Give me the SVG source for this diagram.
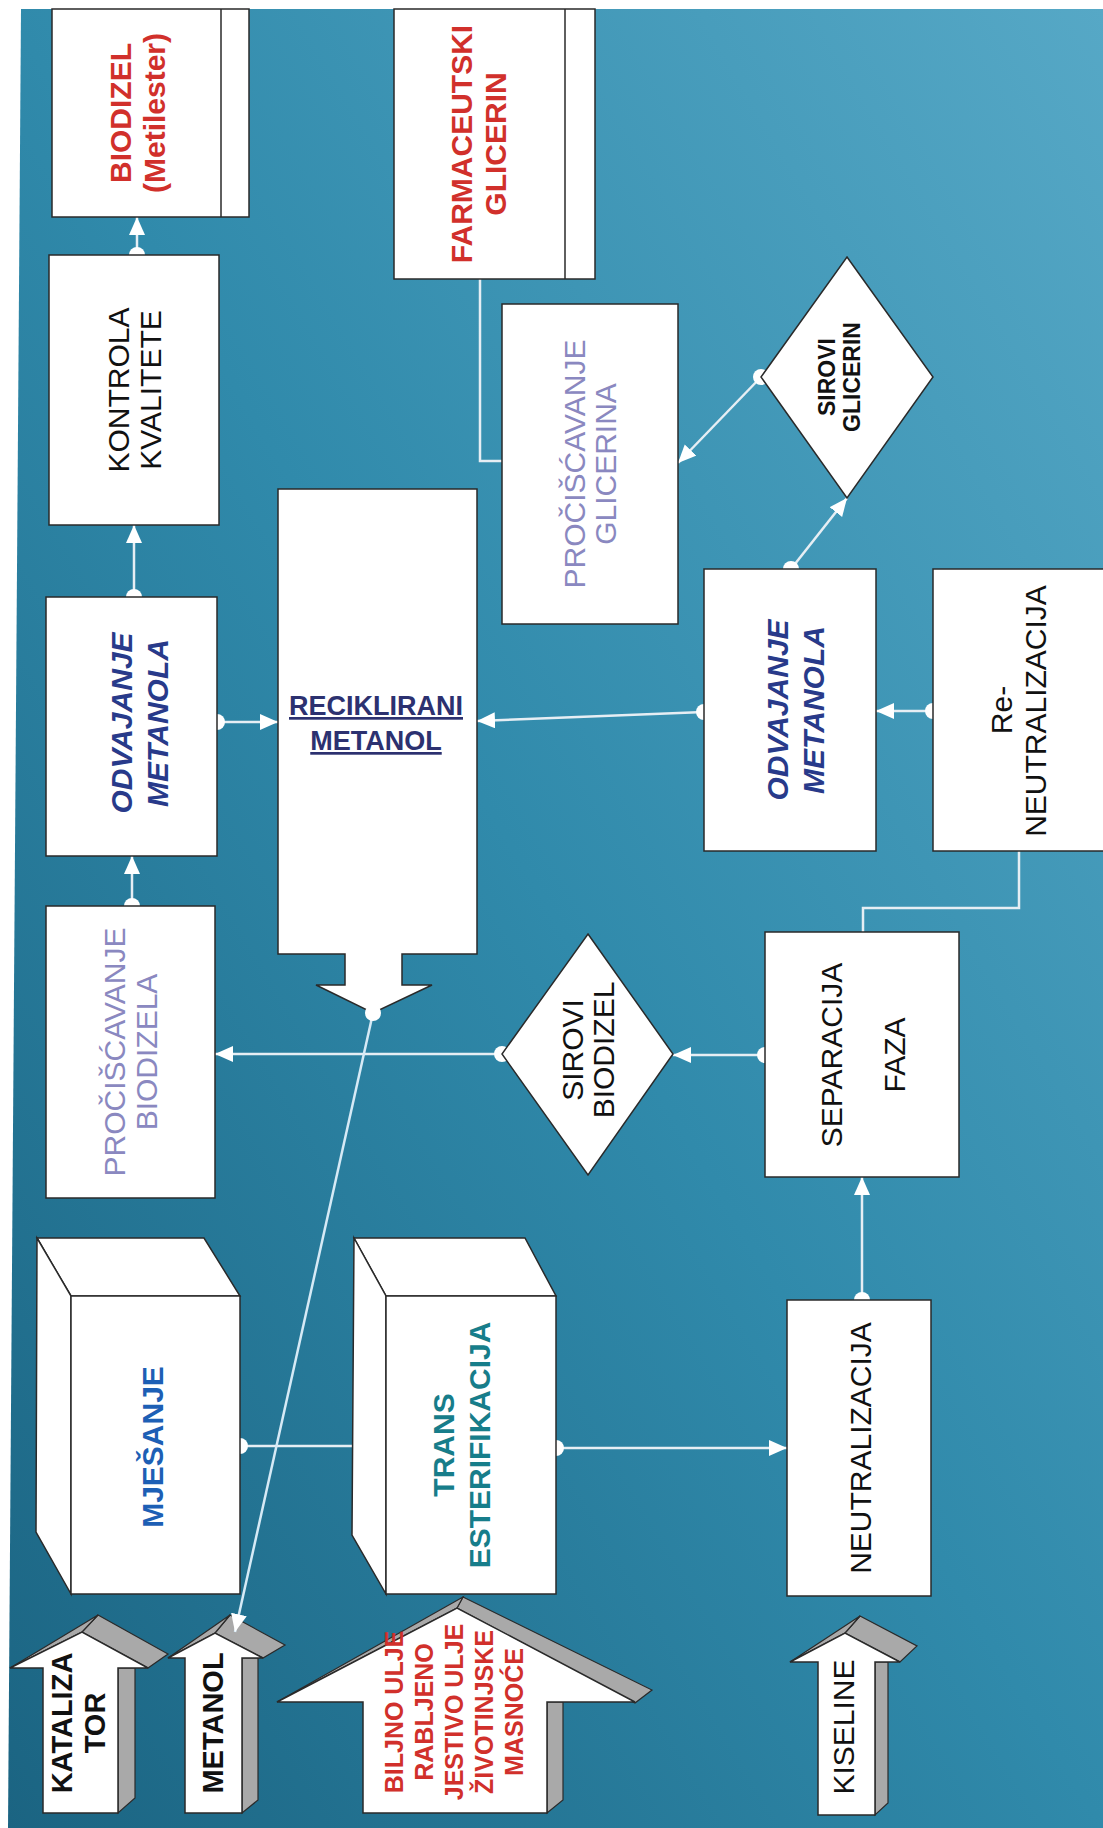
<svg xmlns="http://www.w3.org/2000/svg" width="1103" height="1828" viewBox="0 0 1103 1828">
<defs>
<linearGradient id="bg" x1="0" y1="1" x2="1" y2="0">
<stop offset="0" stop-color="#1b6482"/>
<stop offset="0.5" stop-color="#308aab"/>
<stop offset="1" stop-color="#56a8c6"/>
</linearGradient>
<marker id="ah" markerUnits="userSpaceOnUse" markerWidth="20" markerHeight="18" refX="18" refY="8" orient="auto"><path d="M0,0 L18,8 L0,16 z" fill="#ffffff"/></marker>
<style>
.box{fill:#fff;stroke:#2a2a2a;stroke-width:1.5}
.gray{fill:#a9a9a9;stroke:#2a2a2a;stroke-width:1.2}
.t{font-family:"Liberation Sans",Arial,sans-serif;font-size:30px;text-anchor:middle}
.b{font-weight:bold}
.i{font-style:italic}
.red{fill:#d1302b}
.blk{fill:#111}
.lav{fill:#8a88c0}
.navy{fill:#283a8a}
.con{stroke:#e6eef4;stroke-width:2.5;fill:none}
.arr{marker-end:url(#ah)}
.dot{fill:#fff}
</style>
</defs>
<polygon points="21,9 1103,9 1103,1828 8,1828" fill="url(#bg)"/>

<g id="connectors">
<line class="con arr" x1="137" y1="255" x2="137" y2="217"/><circle class="dot" cx="137" cy="255" r="8"/>
<line class="con arr" x1="134" y1="597" x2="134" y2="525"/><circle class="dot" cx="134" cy="597" r="8"/>
<line class="con arr" x1="132" y1="906" x2="132" y2="856"/><circle class="dot" cx="132" cy="906" r="8"/>
<line class="con arr" x1="217" y1="722" x2="278" y2="722"/><circle class="dot" cx="217" cy="722" r="8"/>
<line class="con arr" x1="704" y1="712" x2="477" y2="721"/><circle class="dot" cx="704" cy="712" r="8"/>
<line class="con arr" x1="933" y1="711" x2="876" y2="711"/><circle class="dot" cx="933" cy="711" r="8"/>
<line class="con arr" x1="791" y1="569" x2="847" y2="498"/><circle class="dot" cx="791" cy="569" r="8"/>
<line class="con arr" x1="761" y1="377" x2="678" y2="463"/><circle class="dot" cx="761" cy="377" r="8"/>
<polyline class="con" points="502,461 480,461 480,279"/>
<polyline class="con" points="1019,851 1019,908 863,908 863,932"/>
<line class="con arr" x1="765" y1="1055" x2="673" y2="1055"/><circle class="dot" cx="765" cy="1055" r="8"/>
<line class="con arr" x1="502" y1="1054" x2="215" y2="1054"/><circle class="dot" cx="502" cy="1054" r="8"/>
<line class="con arr" x1="862" y1="1300" x2="862" y2="1177"/><circle class="dot" cx="862" cy="1300" r="8"/>
<line class="con arr" x1="556" y1="1448" x2="787" y2="1448"/><circle class="dot" cx="556" cy="1448" r="8"/>
<line class="con" x1="240" y1="1446" x2="354" y2="1446"/><circle class="dot" cx="240" cy="1446" r="8"/>
</g>

<g id="biodizel">
<rect class="box" x="52" y="9" width="197" height="208"/>
<line x1="221" y1="9" x2="221" y2="217" stroke="#2a2a2a" stroke-width="1.5"/>
<text class="t b red" transform="translate(120,113) rotate(-90)" y="10.7">BIODIZEL</text>
<text class="t b red" transform="translate(154,113) rotate(-90)" y="10.7">(Metilester)</text>
</g>

<g id="kontrola">
<rect class="box" x="49" y="255" width="170" height="270"/>
<text class="t blk" transform="translate(118,390) rotate(-90)" y="10.7">KONTROLA</text>
<text class="t blk" transform="translate(150,390) rotate(-90)" y="10.7">KVALITETE</text>
</g>

<g id="farmaceutski">
<rect class="box" x="394" y="9" width="201" height="270"/>
<line x1="565" y1="9" x2="565" y2="279" stroke="#2a2a2a" stroke-width="1.5"/>
<text class="t b red" transform="translate(461,144) rotate(-90)" y="10.7">FARMACEUTSKI</text>
<text class="t b red" transform="translate(495,144) rotate(-90)" y="10.7">GLICERIN</text>
</g>

<g id="prociscavanje-glicerina">
<rect class="box" x="502" y="304" width="176" height="320"/>
<text class="t lav" transform="translate(574,464) rotate(-90)" y="10.7">PROČIŠĆAVANJE</text>
<text class="t lav" transform="translate(605,464) rotate(-90)" y="10.7">GLICERINA</text>
</g>

<g id="sirovi-glicerin">
<polygon class="box" points="847,257 933,377 847,498 761,377"/>
<text class="t b blk" style="font-size:23px" transform="translate(827,377) rotate(-90)" y="8.2">SIROVI</text>
<text class="t b blk" style="font-size:23px" transform="translate(852,377) rotate(-90)" y="8.2">GLICERIN</text>
</g>

<g id="reciklirani">
<polygon class="box" points="278,489 477,489 477,954 402,954 402,985 432,985 373,1013 316,985 345,985 345,954 278,954"/>
<text class="t b" style="font-size:27px;fill:#2c3170;text-decoration:underline" x="376" y="715">RECIKLIRANI</text>
<text class="t b" style="font-size:27px;fill:#2c3170;text-decoration:underline" x="376" y="750">METANOL</text>
</g>

<g id="odvajanje-1">
<rect class="box" x="46" y="597" width="171" height="259"/>
<text class="t b i navy" transform="translate(121,723) rotate(-90)" y="10.7">ODVAJANJE</text>
<text class="t b i navy" transform="translate(157,723) rotate(-90)" y="10.7">METANOLA</text>
</g>

<g id="odvajanje-2">
<rect class="box" x="704" y="569" width="172" height="282"/>
<text class="t b i navy" transform="translate(777,710) rotate(-90)" y="10.7">ODVAJANJE</text>
<text class="t b i navy" transform="translate(813,710) rotate(-90)" y="10.7">METANOLA</text>
</g>

<g id="re-neutralizacija">
<rect class="box" x="933" y="569" width="172" height="282"/>
<text class="t blk" transform="translate(1001,710) rotate(-90)" y="10.7">Re-</text>
<text class="t blk" transform="translate(1035,711) rotate(-90)" y="10.7">NEUTRALIZACIJA</text>
</g>

<g id="prociscavanje-biodizela">
<rect class="box" x="46" y="906" width="169" height="292"/>
<text class="t lav" transform="translate(114,1052) rotate(-90)" y="10.7">PROČIŠĆAVANJE</text>
<text class="t lav" transform="translate(146,1052) rotate(-90)" y="10.7">BIODIZELA</text>
</g>

<g id="sirovi-biodizel">
<polygon class="box" points="588,934 673,1054 588,1175 502,1054"/>
<text class="t blk" transform="translate(572,1050) rotate(-90)" y="10.7">SIROVI</text>
<text class="t blk" transform="translate(603,1050) rotate(-90)" y="10.7">BIODIZEL</text>
</g>

<g id="separacija">
<rect class="box" x="765" y="932" width="194" height="245"/>
<text class="t blk" transform="translate(831,1055) rotate(-90)" y="10.7">SEPARACIJA</text>
<text class="t blk" transform="translate(894,1055) rotate(-90)" y="10.7">FAZA</text>
</g>

<g id="neutralizacija">
<rect class="box" x="787" y="1300" width="144" height="296"/>
<text class="t blk" transform="translate(860,1448) rotate(-90)" y="10.7">NEUTRALIZACIJA</text>
</g>

<g id="mjesanje">
<polygon class="box" points="37,1238 204,1238 240,1296 71,1296"/>
<polygon class="box" points="37,1238 71,1296 71,1594 36,1532"/>
<rect class="box" x="71" y="1296" width="169" height="298"/>
<text class="t b" style="fill:#1d5fb5" transform="translate(152,1447) rotate(-90)" y="10.7">MJEŠANJE</text>
</g>

<g id="transesterifikacija">
<polygon class="box" points="354,1238 525,1238 556,1296 386,1296"/>
<polygon class="box" points="354,1238 386,1296 386,1594 352,1535"/>
<rect class="box" x="386" y="1296" width="170" height="298"/>
<text class="t b" style="fill:#177d8a" transform="translate(443,1445) rotate(-90)" y="10.7">TRANS</text>
<text class="t b" style="fill:#177d8a" transform="translate(479,1445) rotate(-90)" y="10.7">ESTERIFIKACIJA</text>
</g>

<g id="katalizator">
<polygon class="gray" points="118,1668 135,1668 135,1798 118,1813"/>
<polygon class="gray" points="82,1632 98,1615 168,1654 148,1668"/>
<polygon class="gray" points="10,1668 98,1615 82,1632"/>
<polygon class="box" points="43,1813 43,1668 10,1668 82,1632 148,1668 118,1668 118,1813"/>
<text class="t b blk" style="font-size:29px" transform="translate(62,1723) rotate(-90)" y="10.4">KATALIZA</text>
<text class="t b blk" style="font-size:29px" transform="translate(95,1723) rotate(-90)" y="10.4">TOR</text>
</g>

<g id="metanol">
<polygon class="gray" points="242,1658 258,1658 258,1800 242,1813"/>
<polygon class="gray" points="215,1633 230,1615 285,1645 263,1658"/>
<polygon class="gray" points="168,1658 230,1615 215,1633"/>
<polygon class="box" points="185,1813 185,1658 168,1658 215,1633 263,1658 242,1658 242,1813"/>
<text class="t b blk" style="font-size:29px" transform="translate(213,1723) rotate(-90)" y="10.4">METANOL</text>
</g>

<g id="ulje">
<polygon class="gray" points="547,1702 563,1702 563,1800 547,1813"/>
<polygon class="gray" points="457,1608 463,1597 652,1690 635,1703"/>
<polygon class="gray" points="277,1702 463,1597 457,1608"/>
<polygon class="box" points="363,1813 363,1702 277,1702 457,1608 635,1702 547,1702 547,1813"/>
<g class="t b red" style="font-size:25px">
<text transform="translate(394,1712) rotate(-90)" y="9">BILJNO ULJE</text>
<text transform="translate(424,1712) rotate(-90)" y="9">RABLJENO</text>
<text transform="translate(454,1712) rotate(-90)" y="9">JESTIVO ULJE</text>
<text transform="translate(484,1712) rotate(-90)" y="9">ŽIVOTINJSKE</text>
<text transform="translate(514,1712) rotate(-90)" y="9">MASNOĆE</text>
</g>
</g>

<g id="kiseline">
<polygon class="gray" points="875,1662 888,1662 888,1803 875,1815"/>
<polygon class="gray" points="845,1633 860,1616 917,1646 900,1662"/>
<polygon class="gray" points="790,1662 860,1616 845,1633"/>
<polygon class="box" points="818,1815 818,1662 790,1662 845,1633 900,1662 875,1662 875,1815"/>
<text class="t blk" transform="translate(843,1727) rotate(-90)" y="10.7">KISELINE</text>
</g>

<g id="connector-recycle">
<line class="con arr" x1="373" y1="1013" x2="235" y2="1632" style="stroke:#d6eaf6"/>
<circle class="dot" cx="373" cy="1013" r="8"/>
</g>
</svg>
